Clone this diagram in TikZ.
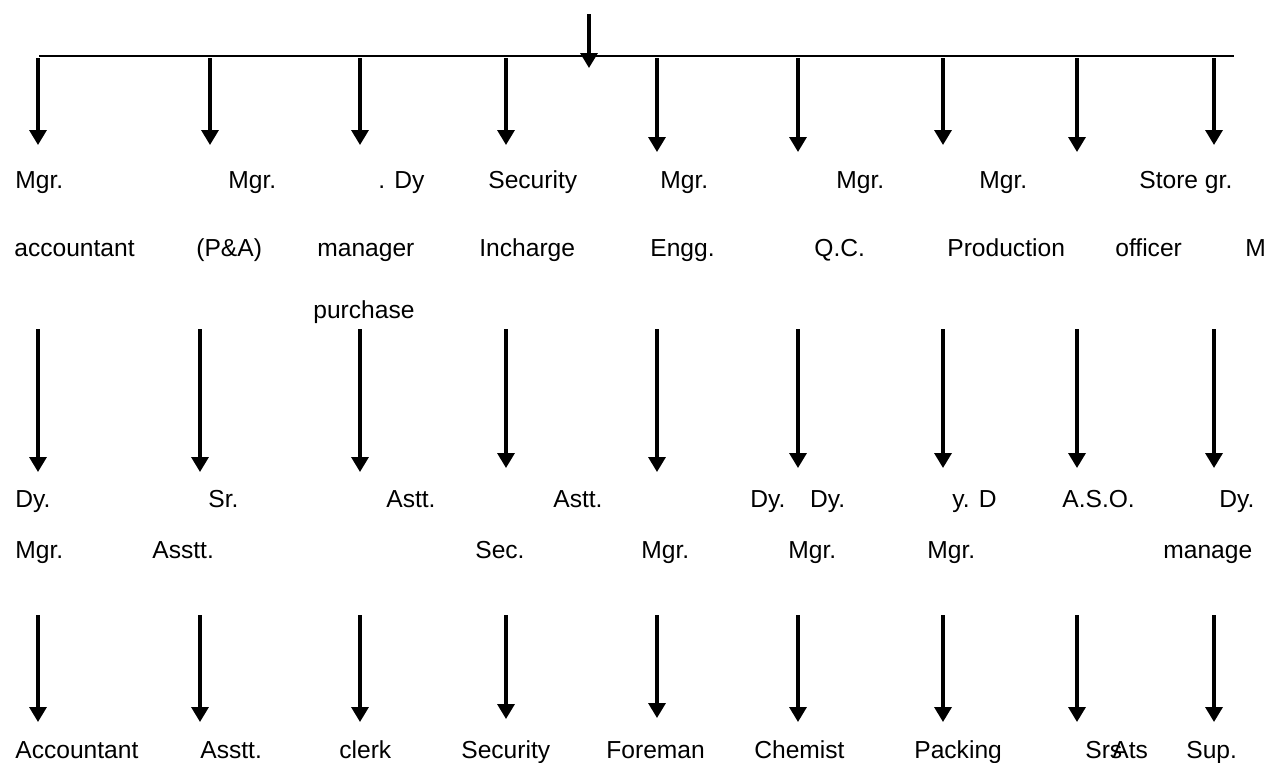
\documentclass[tikz,border=0pt]{standalone}
\usepackage{fontspec}
\setmainfont{Liberation Sans}
\usepackage{tikz}
\usetikzlibrary{positioning}
\usetikzlibrary{arrows.meta}

\tikzset{
  post/.style={-{Triangle[length=0.3cm,width=0.34cm]}, line width=1.9pt},
  bar/.style={line width=0.75pt},
  post label/.style={anchor=base west, inner sep=0pt, font=\fontsize{14}{17}\selectfont},
}

\begin{document}
\begin{tikzpicture}[x=0.02cm, y=-0.02cm]
\useasboundingbox (0,0) rectangle (1270,762);

\coordinate (top) at (589,14);
\coordinate (topend) at (589,68);
\coordinate (barl) at (39,56);
\coordinate (barr) at (1234,56);
\draw[bar] (barl) -- (barr);
\draw[post] (top) -- (topend);

\foreach \n/\x/\y in {1/38/145, 2/210/145, 3/360/145, 4/506/145, 5/657/152, 6/798/152, 7/943/145, 8/1077/152, 9/1214/145}{
  \coordinate (a\n) at (\x,58);
  \coordinate (b\n) at (\x,\y);
  \draw[post] (a\n) -- (b\n);
}
\foreach \n/\x/\y in {1/38/472, 2/200/472, 3/360/472, 4/506/468, 5/657/472, 6/798/468, 7/943/468, 8/1077/468, 9/1214/468}{
  \coordinate (c\n) at (\x,329);
  \coordinate (d\n) at (\x,\y);
  \draw[post] (c\n) -- (d\n);
}
\foreach \n/\x/\y in {1/38/722, 2/200/722, 3/360/722, 4/506/719, 5/657/718, 6/798/722, 7/943/722, 8/1077/722, 9/1214/722}{
  \coordinate (f\n) at (\x,615);
  \coordinate (g\n) at (\x,\y);
  \draw[post] (f\n) -- (g\n);
}

\node[post label] (mgracc) at (15,188) {Mgr.};
\node[post label] (mgrpa) at (228,188) {Mgr.};
\node[post label] (dypur) at (378,188) {. Dy};
\node[post label] (secinc) at (488,188) {Security};
\node[post label] (mgreng) at (660,188) {Mgr.};
\node[post label] (mgrqc) at (836,188) {Mgr.};
\node[post label] (mgrprod) at (979,188) {Mgr.};
\node[post label] (store) at (1139,188) {Store gr.};

\node[post label] (acc) at (14,256) {accountant};
\node[post label] (pa) at (196,256) {(P\&A)};
\node[post label] (man) at (317,256) {manager};
\node[post label] (inch) at (479,256) {Incharge};
\node[post label] (engg) at (650,256) {Engg.};
\node[post label] (qc) at (814,256) {Q.C.};
\node[post label] (prod) at (947,256) {Production};
\node[post label] (off) at (1115,256) {officer};
\node[post label] (mcut) at (1245,256) {M};
\node[post label] (purch) at (313,318) {purchase};

\node[post label] (dy1) at (15,507) {Dy.};
\node[post label] (sr) at (208,507) {Sr.};
\node[post label] (astt1) at (386,507) {Astt.};
\node[post label] (astt2) at (553,507) {Astt.};
\node[post label] (dydy) at (750,507) {Dy.\quad Dy.};
\node[post label] (yd) at (952,507) {y. D};
\node[post label] (aso) at (1062,507) {A.S.O.};
\node[post label] (dy9) at (1219,507) {Dy.};

\node[post label] (mgr1) at (15,558) {Mgr.};
\node[post label] (asstt1) at (152,558) {Asstt.};
\node[post label] (sec) at (475,558) {Sec.};
\node[post label] (mgr5) at (641,558) {Mgr.};
\node[post label] (mgr6) at (788,558) {Mgr.};
\node[post label] (mgr7) at (927,558) {Mgr.};
\node[post label] (manage) at (1163,558) {manage};

\node[post label] (accnt) at (15,758) {Accountant};
\node[post label] (asstt2) at (200,758) {Asstt.};
\node[post label] (clerk) at (339,758) {clerk};
\node[post label] (secur) at (461,758) {Security};
\node[post label] (fore) at (606,758) {Foreman};
\node[post label] (chem) at (754,758) {Chemist};
\node[post label] (pack) at (914,758) {Packing};
\node[post label] (srs) at (1085,758) {Srs};
\node[post label] (ats) at (1112,758) {Ats};
\node[post label] (sup) at (1186,758) {Sup.};
\end{tikzpicture}
\end{document}
